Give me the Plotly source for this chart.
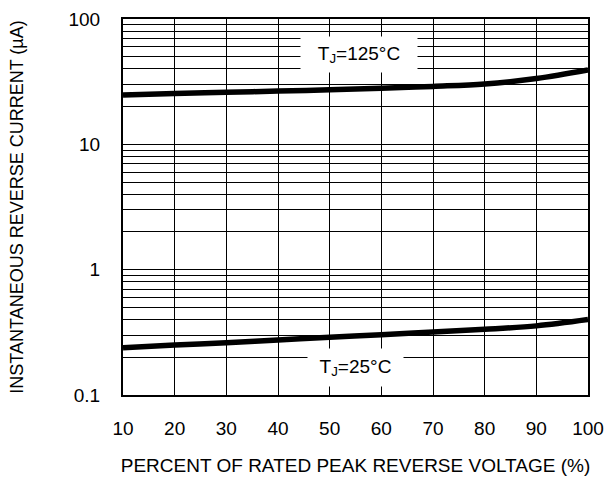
import plotly.graph_objects as go

# Data
voltage_pct = [10, 20, 30, 40, 50, 60, 70, 80, 90, 100]
current_125 = [24.8, 25.5, 26.0, 26.6, 27.2, 28.0, 29.0, 30.3, 33.5, 39.2]
current_25 = [0.238, 0.250, 0.261, 0.275, 0.289, 0.302, 0.318, 0.334, 0.356, 0.40]

x_ticks = [10, 20, 30, 40, 50, 60, 70, 80, 90, 100]
y_ticks = [0.1, 1, 10, 100]
y_tick_labels = ["0.1", "1", "10", "100"]
y_minor_grid = [m * d for d in (0.1, 1, 10) for m in range(2, 10)]

FONT = "Liberation Sans, Arial, sans-serif"

fig = go.Figure()
for ys in (current_125, current_25):
    fig.add_trace(go.Scatter(x=voltage_pct, y=ys, mode="lines",
                             line=dict(color="black", width=5.5, shape="spline"),
                             showlegend=False, hoverinfo="skip"))

fig.update_layout(
    width=606, height=485,
    margin=dict(l=123, r=18, t=19, b=90),
    paper_bgcolor="white", plot_bgcolor="white",
    font=dict(family=FONT, color="black", size=19),
    xaxis=dict(range=[10, 100], tickvals=x_ticks, showgrid=True,
               gridcolor="black", gridwidth=1, zeroline=False,
               showline=True, linecolor="black", linewidth=2, mirror=True,
               ticks="", ticklabelstandoff=15, tickfont=dict(size=19),
               automargin=False,
               title=dict(text="PERCENT OF RATED PEAK REVERSE VOLTAGE (%)",
                          font=dict(size=19), standoff=21)),
    yaxis=dict(type="log", range=[-1, 2], tickvals=y_ticks, ticktext=y_tick_labels,
               showgrid=True, gridcolor="black", gridwidth=1, zeroline=False,
               showline=True, linecolor="black", linewidth=2, mirror=True,
               ticks="", ticklabelstandoff=17, tickfont=dict(size=19),
               automargin=False,
               minor=dict(tickmode="array", tickvals=y_minor_grid, showgrid=True,
                          gridcolor="black", gridwidth=1, ticks=""),
               title=dict(text="INSTANTANEOUS REVERSE CURRENT (µA)",
                          font=dict(size=18), standoff=40)),
)

fig.add_annotation(x=55.7, y=1.713, xref="x", yref="y",
                   text="T<sub>J</sub>=125°C", showarrow=False,
                   bgcolor="white", width=114, height=33,
                   font=dict(size=19, family=FONT))
fig.add_annotation(x=55.0, y=-0.777, xref="x", yref="y",
                   text="T<sub>J</sub>=25°C", showarrow=False,
                   bgcolor="white", width=93, height=35,
                   font=dict(size=19, family=FONT))

fig.write_html("out.html", config={"displayModeBar": False},
               post_script="document.body.style.margin='0';")
